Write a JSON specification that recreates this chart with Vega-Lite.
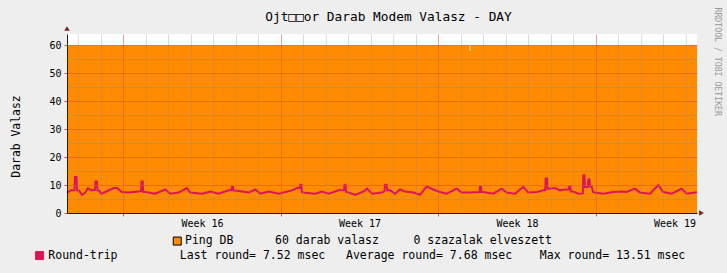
{
  "$schema": "https://vega.github.io/schema/vega-lite/v6.json",
  "width": 630,
  "height": 179,
  "autosize": "none",
  "padding": {"left": 67, "top": 34, "right": 30, "bottom": 60},
  "background": "#EEEEEE",
  "config": {
    "view": {"fill": "#FFFFFF", "stroke": null},
    "font": "DejaVu Sans Mono"
  },
  "title": {
    "text": "Ojt□□or Darab Modem Valasz - DAY",
    "font": "DejaVu Sans Mono",
    "fontSize": 12.8,
    "fontWeight": "normal",
    "color": "#000000",
    "anchor": "middle",
    "frame": "group",
    "dx": 6.5,
    "baseline": "alphabetic",
    "offset": -27
  },
  "datasets": {
    "ping": [
      {"day": 0, "ping": 60},
      {"day": 17.89, "ping": 58},
      {"day": 17.93, "ping": 60},
      {"day": 28, "ping": 60}
    ],
    "rtt": [
      {"day": 0, "rtt": 7.3}, {"day": 0.178, "rtt": 8.1}, {"day": 0.333, "rtt": 8.1}, {"day": 0.356, "rtt": 12.9},
      {"day": 0.422, "rtt": 12.9}, {"day": 0.444, "rtt": 8.1}, {"day": 0.533, "rtt": 8.0}, {"day": 0.667, "rtt": 6.5},
      {"day": 0.813, "rtt": 7.3}, {"day": 0.933, "rtt": 8.9}, {"day": 1.08, "rtt": 8.1}, {"day": 1.244, "rtt": 8.3},
      {"day": 1.267, "rtt": 11.3}, {"day": 1.333, "rtt": 11.3}, {"day": 1.356, "rtt": 8.1}, {"day": 1.422, "rtt": 8.0},
      {"day": 1.524, "rtt": 6.9}, {"day": 1.702, "rtt": 7.5}, {"day": 2.076, "rtt": 8.9}, {"day": 2.222, "rtt": 8.9},
      {"day": 2.444, "rtt": 7.5}, {"day": 2.742, "rtt": 7.3}, {"day": 3.187, "rtt": 7.7}, {"day": 3.289, "rtt": 7.8},
      {"day": 3.311, "rtt": 11.3}, {"day": 3.364, "rtt": 11.3}, {"day": 3.387, "rtt": 7.6}, {"day": 3.48, "rtt": 7.5},
      {"day": 3.924, "rtt": 6.9}, {"day": 4.369, "rtt": 8.4}, {"day": 4.591, "rtt": 6.9}, {"day": 4.964, "rtt": 7.3},
      {"day": 5.333, "rtt": 8.9}, {"day": 5.48, "rtt": 7.3}, {"day": 6.0, "rtt": 6.9}, {"day": 6.369, "rtt": 7.7},
      {"day": 6.742, "rtt": 6.9}, {"day": 7.187, "rtt": 8.1}, {"day": 7.311, "rtt": 8.1}, {"day": 7.333, "rtt": 9.3},
      {"day": 7.378, "rtt": 9.3}, {"day": 7.4, "rtt": 8.1}, {"day": 7.778, "rtt": 7.7}, {"day": 8.076, "rtt": 7.3},
      {"day": 8.369, "rtt": 8.4}, {"day": 8.591, "rtt": 6.9}, {"day": 8.964, "rtt": 7.7}, {"day": 9.409, "rtt": 6.9},
      {"day": 10.0, "rtt": 8.1}, {"day": 10.222, "rtt": 8.9}, {"day": 10.347, "rtt": 8.9}, {"day": 10.369, "rtt": 10.1},
      {"day": 10.413, "rtt": 10.1}, {"day": 10.436, "rtt": 7.5}, {"day": 10.52, "rtt": 7.3}, {"day": 11.036, "rtt": 6.9},
      {"day": 11.333, "rtt": 7.7}, {"day": 11.631, "rtt": 6.9}, {"day": 12.076, "rtt": 8.1}, {"day": 12.311, "rtt": 8.2},
      {"day": 12.333, "rtt": 10.1}, {"day": 12.378, "rtt": 10.1}, {"day": 12.4, "rtt": 7.6}, {"day": 12.52, "rtt": 7.3},
      {"day": 12.813, "rtt": 6.5}, {"day": 13.187, "rtt": 7.7}, {"day": 13.333, "rtt": 8.7}, {"day": 13.556, "rtt": 6.9},
      {"day": 14.0, "rtt": 7.3}, {"day": 14.111, "rtt": 7.8}, {"day": 14.133, "rtt": 10.1}, {"day": 14.209, "rtt": 10.1},
      {"day": 14.231, "rtt": 8.1}, {"day": 14.356, "rtt": 8.1}, {"day": 14.578, "rtt": 6.9}, {"day": 14.8, "rtt": 8.4},
      {"day": 15.022, "rtt": 7.7}, {"day": 15.391, "rtt": 7.3}, {"day": 15.689, "rtt": 6.5}, {"day": 15.987, "rtt": 9.5},
      {"day": 16.28, "rtt": 8.4}, {"day": 16.578, "rtt": 7.5}, {"day": 16.876, "rtt": 6.9}, {"day": 17.32, "rtt": 8.7},
      {"day": 17.542, "rtt": 7.3}, {"day": 17.911, "rtt": 7.3}, {"day": 18.333, "rtt": 7.5}, {"day": 18.356, "rtt": 9.3},
      {"day": 18.4, "rtt": 9.3}, {"day": 18.422, "rtt": 7.5}, {"day": 18.502, "rtt": 7.5}, {"day": 18.947, "rtt": 6.9},
      {"day": 19.32, "rtt": 8.7}, {"day": 19.542, "rtt": 7.3}, {"day": 19.911, "rtt": 6.9}, {"day": 20.28, "rtt": 9.3},
      {"day": 20.502, "rtt": 7.3}, {"day": 20.876, "rtt": 7.5}, {"day": 21.169, "rtt": 8.1}, {"day": 21.253, "rtt": 8.1},
      {"day": 21.276, "rtt": 12.3}, {"day": 21.333, "rtt": 12.3}, {"day": 21.356, "rtt": 8.7}, {"day": 21.391, "rtt": 8.7},
      {"day": 21.689, "rtt": 8.9}, {"day": 21.911, "rtt": 8.1}, {"day": 22.133, "rtt": 8.4}, {"day": 22.302, "rtt": 8.4},
      {"day": 22.324, "rtt": 9.5}, {"day": 22.369, "rtt": 9.5}, {"day": 22.391, "rtt": 7.7}, {"day": 22.502, "rtt": 7.7},
      {"day": 22.724, "rtt": 6.9}, {"day": 22.924, "rtt": 7.0}, {"day": 22.947, "rtt": 13.51}, {"day": 23.0, "rtt": 13.51},
      {"day": 23.022, "rtt": 9.3}, {"day": 23.147, "rtt": 9.3}, {"day": 23.169, "rtt": 12.0}, {"day": 23.222, "rtt": 12.0},
      {"day": 23.244, "rtt": 9.5}, {"day": 23.32, "rtt": 9.5}, {"day": 23.378, "rtt": 7.5}, {"day": 23.467, "rtt": 7.3},
      {"day": 23.836, "rtt": 6.9}, {"day": 24.28, "rtt": 7.5}, {"day": 24.653, "rtt": 7.7}, {"day": 24.876, "rtt": 7.5},
      {"day": 25.244, "rtt": 8.7}, {"day": 25.467, "rtt": 7.3}, {"day": 25.911, "rtt": 6.9}, {"day": 26.28, "rtt": 10.0},
      {"day": 26.502, "rtt": 7.5}, {"day": 26.876, "rtt": 6.9}, {"day": 27.32, "rtt": 8.7}, {"day": 27.542, "rtt": 6.9},
      {"day": 27.911, "rtt": 7.3}, {"day": 28.0, "rtt": 7.52}
    ]
  },
  "layer": [
    {
      "data": {"name": "ping"},
      "mark": {"type": "area", "interpolate": "step-after"},
      "encoding": {
        "x": {
          "field": "day", "type": "quantitative",
          "scale": {"domain": [0, 28], "nice": false, "zero": false},
          "axis": {
            "orient": "bottom",
            "title": null,
            "values": [0.5,1.5,2.5,3.5,4.5,5.5,6,6.5,7.5,8.5,9.5,10.5,11.5,12.5,13,13.5,14.5,15.5,16.5,17.5,18.5,19.5,20,20.5,21.5,22.5,23.5,24.5,25.5,26.5,27,27.5],
            "tickCount": 40,
            "grid": true,
            "gridColor": {"condition": {"test": "(datum.value - 2.5) % 7 == 0", "value": "rgba(222,79,79,0.55)"}, "value": "rgba(143,143,143,0.32)"},
            "gridOpacity": {"condition": {"test": "datum.value % 1 == 0", "value": 0}, "value": 1},
            "tickColor": "#DE4F4F",
            "tickOpacity": {"condition": {"test": "(datum.value - 2.5) % 7 == 0", "value": 1}, "value": 0},
            "tickSize": 3,
            "labelExpr": "datum.value == 6 ? 'Week 16' : datum.value == 13 ? 'Week 17' : datum.value == 20 ? 'Week 18' : datum.value == 27 ? 'Week 19' : ''",
            "labelFont": "DejaVu Sans Mono",
            "labelFontSize": 10,
            "labelColor": "#000000",
            "labelPadding": 2,
            "labelOverlap": false,
            "labelFlush": false,
            "labelBound": false,
            "domainColor": "#1F1F1F",
            "zindex": 1
          }
        },
        "y": {
          "field": "ping", "type": "quantitative",
          "scale": {"domain": [0, 64], "nice": false},
          "axis": {
            "orient": "left",
            "values": [0,5,10,15,20,25,30,35,40,45,50,55,60],
            "tickCount": 20,
            "title": "Darab Valasz",
            "titleFont": "DejaVu Sans Mono",
            "titleFontSize": 11.4,
            "titleFontWeight": "normal",
            "titleColor": "#000000",
            "titleAngle": 270,
            "titleX": -51,
            "titleY": 102,
            "titleAlign": "center",
            "titleBaseline": "middle",
            "grid": true,
            "gridColor": {"condition": {"test": "datum.value % 10 == 0", "value": "rgba(222,79,79,0.6)"}, "value": "rgba(143,143,143,0.45)"},
            "gridOpacity": 1,
            "tickColor": "#DE4F4F",
            "tickOpacity": {"condition": {"test": "datum.value % 10 == 0", "value": 1}, "value": 0},
            "tickSize": 3,
            "labelExpr": "datum.value % 10 == 0 ? datum.label : ''",
            "labelFont": "DejaVu Sans Mono",
            "labelFontSize": 10,
            "labelColor": "#000000",
            "labelPadding": 3,
            "labelOverlap": false,
            "labelBound": false,
            "labelFlush": false,
            "domainColor": "#1F1F1F",
            "zindex": 1
          }
        },
        "fill": {
          "datum": "Ping DB",
          "scale": {"domain": ["Ping DB"], "range": ["#FF8C00"]},
          "legend": {
            "orient": "none",
            "legendX": 104.5,
            "legendY": 201.3,
            "title": null,
            "padding": 0,
            "symbolType": "square",
            "symbolSize": 64,
            "symbolStrokeColor": "#000000",
            "symbolStrokeWidth": 1,
            "labelFont": "DejaVu Sans Mono",
            "labelFontSize": 11.5,
            "labelColor": "#000000",
            "labelLimit": 1000,
            "labelOffset": 2,
            "labelExpr": "'Ping DB\u00a0\u00a0\u00a0\u00a0\u00a0\u00a060 darab valasz\u00a0\u00a0\u00a0\u00a0\u00a00 szazalak elveszett'",
            "encode": {"symbols": {"update": {"fill": {"value": "#FF8C00"}, "stroke": {"value": "#000000"}, "strokeWidth": {"value": 1}, "opacity": {"value": 1}}}}
          }
        }
      }
    },
    {
      "data": {"name": "rtt"},
      "mark": {"type": "line", "strokeWidth": 2, "interpolate": "linear"},
      "encoding": {
        "x": {"field": "day", "type": "quantitative", "scale": {"domain": [0, 28], "nice": false, "zero": false}},
        "y": {
          "field": "rtt", "type": "quantitative",
          "scale": {"domain": [0, 64], "nice": false},
          "axis": {
            "orient": "right",
            "labels": false,
            "ticks": false,
            "domain": false,
            "grid": false,
            "title": "RRDTOOL / TOBI OETIKER",
            "titleFont": "DejaVu Sans Mono",
            "titleFontSize": 8.2,
            "titleFontWeight": "normal",
            "titleColor": "#9A9A9A",
            "titleAngle": 90,
            "titleX": 19,
            "titleY": -27,
            "titleAlign": "left",
            "titleBaseline": "middle"
          }
        },
        "stroke": {
          "datum": "Round-trip",
          "scale": {"domain": ["Round-trip"], "range": ["#DC145A"]},
          "legend": {
            "orient": "none",
            "legendX": -33.2,
            "legendY": 215.8,
            "title": null,
            "padding": 0,
            "symbolType": "square",
            "symbolSize": 64,
            "symbolStrokeColor": "#000000",
            "symbolStrokeWidth": 1,
            "labelFont": "DejaVu Sans Mono",
            "labelFontSize": 11.5,
            "labelColor": "#000000",
            "labelLimit": 1000,
            "labelOffset": 3,
            "labelExpr": "'Round-trip\u00a0\u00a0\u00a0\u00a0\u00a0\u00a0\u00a0\u00a0\u00a0Last round= 7.52 msec\u00a0\u00a0\u00a0Average round= 7.68 msec\u00a0\u00a0\u00a0\u00a0Max round= 13.51 msec'",
            "encode": {"symbols": {"update": {"fill": {"value": "#DC145A"}, "stroke": {"value": "#000000"}, "strokeWidth": {"value": 1}, "opacity": {"value": 1}}}}
          }
        }
      }
    },
    {
      "data": {"values": [{}]},
      "mark": {"type": "point", "shape": "triangle-up", "filled": true, "size": 30, "color": "#801F1F", "opacity": 1, "yOffset": -5.5},
      "encoding": {
        "x": {"datum": 0, "type": "quantitative"},
        "y": {"datum": 64, "type": "quantitative", "axis": null}
      }
    },
    {
      "data": {"values": [{}]},
      "mark": {"type": "point", "shape": "triangle-right", "filled": true, "size": 30, "color": "#801F1F", "opacity": 1, "xOffset": 4.5},
      "encoding": {
        "x": {"datum": 28, "type": "quantitative"},
        "y": {"datum": 0, "type": "quantitative", "axis": null}
      }
    }
  ],
  "resolve": {"axis": {"y": "independent"}}
}
